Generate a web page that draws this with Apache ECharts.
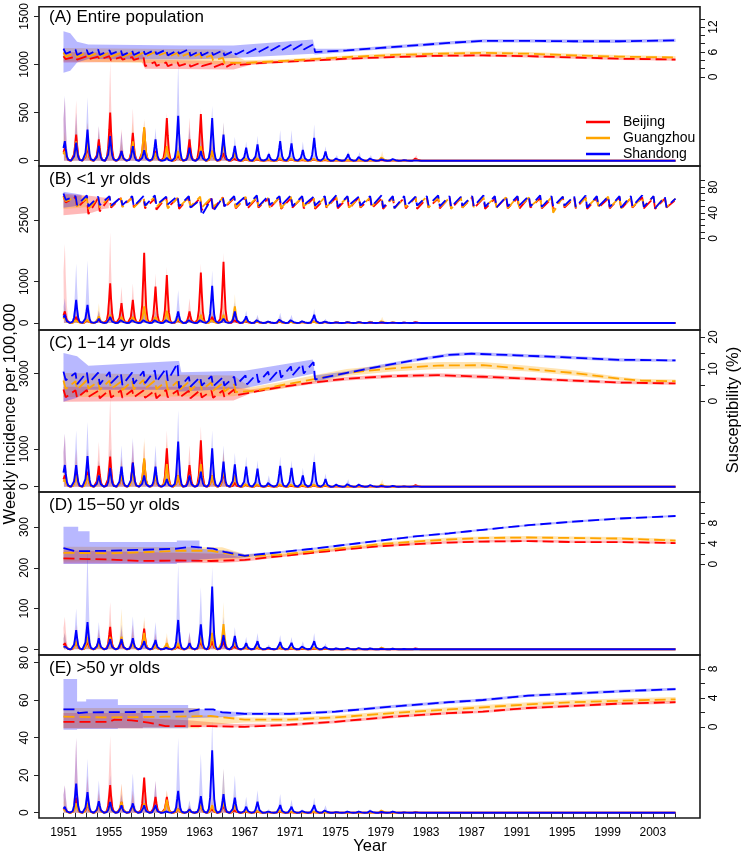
<!DOCTYPE html>
<html><head><meta charset="utf-8">
<script src="https://cdn.jsdelivr.net/npm/echarts@6.0.0/dist/echarts.min.js"></script>
<style>html,body{margin:0;padding:0;background:#fff}#c{width:742px;height:855px}</style>
</head><body><div id="c"></div>
<script>
// ---------------- DATA ----------------
const CITIES = ['Beijing','Guangzhou','Shandong'];
const SPIKE_YEARS = [1951,1952,1953,1954,1955,1956,1957,1958,1959,1960,1961,1962,1963,1964,1965,1966,1967,1968,1969,1970,1971,1972,1973,1974,1975,1976,1977,1978,1979,1980,1981,1982];
const X_TICKS = [1951,1952,1953,1954,1955,1956,1957,1958,1959,1960,1961,1962,1963,1964,1965,1966,1967,1968,1969,1970,1971,1972,1973,1974,1975,1976,1977,1978,1979,1980,1981,1982,1983,1984,1985,1986,1987,1988,1989,1990,1991,1992,1993,1994,1995,1996,1997,1998,1999,2000,2001,2002,2003,2004,2005];
const X_LABELS = [1951,1955,1959,1963,1967,1971,1975,1979,1983,1987,1991,1995,1999,2003];

// Panel A: weekly incidence peaks (per 100,000)
const A_INC_BJ = [130,272,150,221,500,102,289,340,100,442,60,221,486,100,80,30,20,20,10,20,20,10,20,10,5,5,5,5,10,5,5,34];
const A_INC_GZ = [100,200,200,150,250,80,200,350,80,150,100,100,150,100,200,80,30,40,20,40,30,20,30,20,10,10,10,10,51,10,5,10];
const A_INC_SD = [204,187,323,153,255,100,150,110,221,30,466,136,100,442,272,153,136,170,68,204,180,112,238,95,34,68,58,34,20,24,10,5];
const A_UP_BJ = [660,630,400,360,1020,330,544,420,250,500,150,450,540,200,250,80,50,40,30,40,40,30,40,30,15,15,15,15,25,15,10,60];
const A_UP_GZ = [300,400,400,300,500,200,400,440,200,450,300,300,350,300,400,150,60,80,40,80,60,40,60,40,20,20,20,20,100,20,10,20];
const A_UP_SD = [680,500,663,360,400,300,300,300,340,100,1020,350,300,570,400,250,200,260,100,320,320,200,380,150,60,100,90,60,40,40,20,10];
// Panel A: susceptibility (%), sawtooth highs/lows then smooth tail
const A_SUS_BJ_HI = [5.0,4.9,5.0,4.9,5.0,4.8,4.8,4.8,3.6,3.5,3.5,3.4,3.4,3.3,3.2,3.4];
const A_SUS_BJ_LO = [4.3,4.2,4.3,4.2,4.0,4.2,4.1,2.6,2.7,2.6,2.7,2.5,2.6,2.3,2.2,2.8];
const A_SUS_BJ_TAIL = [[1968,3.3],[1970,3.6],[1973,4.0],[1976,4.4],[1980,4.8],[1984,5.1],[1988,5.2],[1992,5.0],[1996,4.7],[2000,4.4],[2005,4.2]];
const A_SUS_GZ_HI = [5.9,5.8,5.9,5.8,5.9,5.8,5.8,5.9,6.0,5.9,5.8,5.7,5.6,5.2,4.6];
const A_SUS_GZ_LO = [4.9,4.8,4.9,4.8,4.9,4.8,4.8,4.9,5.0,4.8,4.7,4.6,4.4,4.0,3.4];
const A_SUS_GZ_TAIL = [[1967,3.4],[1970,3.8],[1973,4.3],[1976,4.8],[1980,5.3],[1984,5.6],[1988,5.8],[1992,5.6],[1996,5.2],[2000,4.9],[2005,4.7]];
const A_SUS_SD_HI = [6.8,6.6,6.5,6.6,6.4,6.5,6.3,6.4,6.5,6.6,6.4,6.7,6.3,6.3,6.4,6.3,6.6,6.9,7.2,7.5,7.7,7.9,7.9];
const A_SUS_SD_LO = [5.6,5.3,5.4,5.3,5.5,5.2,5.3,5.4,5.5,5.2,5.6,5.1,5.2,5.3,5.2,5.4,5.7,6.0,6.2,6.4,6.5,6.6,6.0];
const A_SUS_SD_TAIL = [[1976,6.4],[1979,7.0],[1982,7.6],[1985,8.2],[1988,8.7],[1992,8.7],[1996,8.6],[2000,8.6],[2005,8.8]];
const A_BAND_BJ = [[1951,3.5,6.0],[1957.9,3.6,5.8],[1958.2,2.0,4.2],[1966,1.8,3.8],[1967.5,2.9,3.7],[1970,3.3,3.9],[1973,3.7,4.3],[1976,4.1,4.7],[1980,4.5,5.1],[1984,4.8,5.4],[1988,4.9,5.5],[1992,4.7,5.3],[1996,4.4,5.0],[2000,4.1,4.7],[2005,3.9,4.5]];
const A_BAND_GZ = [[1951,3.8,7.0],[1965,3.0,6.6],[1967,3.0,4.0],[1970,3.4,4.2],[1973,3.9,4.7],[1976,4.4,5.2],[1980,4.9,5.7],[1984,5.2,6.0],[1988,5.4,6.2],[1992,5.2,6.0],[1996,4.8,5.6],[2000,4.5,5.3],[2005,4.4,5.0]];
const A_BAND_SD = [[1951,1.0,11.0],[1951.6,1.5,10.5],[1952.2,3.5,8.5],[1953.2,4.3,7.8],[1962,4.2,7.6],[1966,4.6,7.6],[1973,5.6,9.0],[1973.2,5.4,6.8],[1976,6.0,6.8],[1979,6.6,7.4],[1982,7.2,8.0],[1985,7.8,8.6],[1988,8.3,9.1],[1992,8.3,9.1],[1996,8.2,9.0],[2000,8.2,9.0],[2005,8.4,9.2]];

// Panel B
const B_INC_BJ = [280,150,100,120,960,480,560,1700,880,1160,100,280,1224,150,1480,100,60,50,40,50,40,30,60,30,20,20,20,15,10,10,5,30];
const B_INC_GZ = [150,100,120,160,200,150,150,400,150,300,100,100,200,100,200,400,80,60,30,60,40,30,50,30,20,20,20,40,60,20,10,10];
const B_INC_SD = [200,560,440,100,150,100,100,100,100,100,280,100,100,900,100,280,160,100,50,120,100,60,200,50,20,30,30,20,20,10,5,5];
const B_UP_BJ = [1920,600,400,300,2200,880,960,1760,1200,1360,300,600,1440,300,1700,200,150,100,80,100,80,60,100,60,40,40,40,30,20,20,10,60];
const B_UP_GZ = [400,300,300,480,500,400,400,800,400,700,300,300,500,300,500,700,200,150,80,150,100,80,120,80,50,50,50,100,150,50,30,30];
const B_UP_SD = [600,1440,1520,300,400,300,300,300,300,300,800,300,300,1280,300,500,300,200,100,250,200,120,350,100,40,60,60,40,40,20,10,10];
const B_SUS_BJ_HI = [66,64,62,63,64,63,64,63,62,64,63,64,63,62,64,63,64,63,62,64,63,64,63,62,64,63,64,63,62,64,63,64,63,62,64,63,64,63,62,64,63,64,63,62,64,63,64,63,62,64,63,64,63,62];
const B_SUS_BJ_LO = [56,48,38,42,48,50,49,47,45,48,46,47,44,46,48,47,46,48,47,46,48,47,46,48,47,46,48,47,46,48,47,46,48,47,46,48,47,46,48,47,46,48,47,46,48,47,46,48,47,46,48,47,46,48];
const B_SUS_BJ_TAIL = [[2005,60]];
const B_SUS_GZ_HI = [65,64,63,64,65,64,63,64,65,64,63,64,65,64,63,64,65,64,63,64,65,64,63,64,65,64,63,64,65,64,63,64,65,64,63,64,65,64,63,64,65,64,63,64,65,64,63,64,65,64,63,64,65,64];
const B_SUS_GZ_LO = [58,50,46,48,50,49,48,50,49,47,49,50,48,49,50,48,49,50,48,47,49,50,48,49,50,48,49,50,48,47,49,50,48,49,46,48,49,50,48,47,49,50,48,40,50,48,49,50,48,47,49,50,48,49];
const B_SUS_GZ_TAIL = [[2005,62]];
const B_SUS_SD_HI = [70,66,67,65,66,64,66,66,67,65,66,66,60,62,64,66,66,67,66,66,67,66,65,66,67,66,65,66,67,66,66,65,66,67,66,65,66,67,66,65,66,66,67,66,65,66,67,66,65,66,66,67,66,65];
const B_SUS_SD_LO = [60,52,50,52,51,52,50,51,52,53,50,48,36,42,50,52,51,50,52,51,50,52,51,50,49,52,51,50,48,47,50,51,52,50,49,51,50,49,48,50,51,50,49,50,51,49,48,50,49,48,50,49,47,49];
const B_SUS_SD_TAIL = [[2005,62]];
const B_BAND_BJ = [[1951,36,70],[1953.5,40,66],[1954.5,46,64],[1955,47,63]];
const B_BAND_GZ = [[1951,46,68],[1952.5,48,66],[1953,49,65]];
const B_BAND_SD = [[1951,48,73],[1952,50,70],[1952.6,51,68]];

// Panel C
const C_INC_BJ = [300,400,400,550,796,300,637,720,300,1018,300,575,1230,300,400,100,80,60,40,60,40,30,50,40,20,20,20,20,20,10,10,60];
const C_INC_GZ = [200,300,300,300,500,300,400,752,300,600,300,300,600,300,500,300,100,100,60,100,80,60,80,60,40,30,40,30,80,20,10,20];
const C_INC_SD = [575,575,814,300,500,531,637,300,531,200,1200,300,400,1018,664,593,531,480,150,550,500,300,650,200,80,100,80,60,30,30,10,5];
const C_UP_BJ = [1400,1000,1000,1195,2390,800,1200,1200,700,1500,600,1100,1600,600,900,200,150,120,80,120,80,60,100,80,40,40,40,40,40,20,20,120];
const C_UP_GZ = [600,700,700,700,1000,700,800,1300,600,1200,600,600,1100,600,1000,600,200,200,120,200,160,120,160,120,80,60,80,60,200,40,20,40];
const C_UP_SD = [1416,1500,1725,700,1000,1100,1300,700,1100,400,2035,700,800,1500,1100,900,800,700,300,800,700,500,900,350,150,200,150,120,60,60,20,10];
const C_SUS_BJ_HI = [3.6,3.4,3.5,3.2,3.5,3.3,3.4,3.3,3.2,3.5,3.3,3.2,3.4,3.2,3.3,3.6];
const C_SUS_BJ_LO = [1.2,1.0,1.3,0.9,1.1,1.0,1.2,1.0,0.9,1.2,1.0,0.9,1.1,1.0,1.2,1.8];
const C_SUS_BJ_TAIL = [[1968,3.0],[1970,4.3],[1973,5.8],[1976,7.0],[1980,7.8],[1984,8.1],[1988,7.6],[1992,7.0],[1996,6.4],[2000,5.8],[2005,5.5]];
const C_SUS_GZ_HI = [6.4,6.2,6.5,6.1,6.4,6.0,6.3,6.6,6.4,6.2,6.1,6.0,6.2,5.9,5.6,5.2];
const C_SUS_GZ_LO = [3.8,3.6,3.9,3.5,3.8,3.4,3.7,3.9,3.7,3.5,3.4,3.3,3.5,3.2,3.0,2.8];
const C_SUS_GZ_TAIL = [[1968,3.2],[1970,4.8],[1973,6.8],[1976,8.8],[1980,10.2],[1984,11.1],[1988,11.2],[1992,10.0],[1996,8.8],[2000,7.0],[2002,6.4],[2005,6.2]];
const C_SUS_SD_HI = [9.2,8.8,9.0,8.9,9.1,8.7,8.9,9.3,9.6,10.2,11.8,7.6,7.5,7.8,7.4,7.6,8.0,8.5,9.2,10.0,10.8,11.5,12.2];
const C_SUS_SD_LO = [6.5,5.3,5.5,5.2,5.6,5.0,5.4,5.6,6.0,6.4,4.0,4.5,4.8,4.6,4.8,4.9,5.2,5.8,6.5,7.3,8.0,8.6,6.8];
const C_SUS_SD_TAIL = [[1976,8.8],[1979,10.9],[1982,12.8],[1985,14.4],[1987,14.8],[1991,14.3],[1995,13.7],[2000,12.9],[2005,12.7]];
const C_BAND_BJ = [[1951,-0.2,4.5],[1966,0.2,4.5],[1967.5,2.4,3.6],[1970,3.8,4.8],[1973,5.3,6.3],[1976,6.4,7.6],[1980,7.2,8.4],[1984,7.5,8.7],[1988,7.0,8.2],[1992,6.5,7.5],[1996,5.9,6.9],[2000,5.3,6.3],[2005,5.1,5.9]];
const C_BAND_GZ = [[1951,1.3,8.8],[1966,1.5,8.0],[1967.5,2.5,4.3],[1970,3.8,5.8],[1973,5.8,8.0],[1976,7.8,10.0],[1980,9.2,11.4],[1984,10.0,12.2],[1988,10.2,12.2],[1992,9.2,11.0],[1996,8.0,9.6],[2000,6.4,7.6],[2002,5.9,6.9],[2005,5.8,6.7]];
const C_BAND_SD = [[1951,-0.2,15.0],[1952.2,1.0,14.0],[1953.2,3.5,11.0],[1961,3.5,12.5],[1961.2,3.0,12.5],[1961.4,3.0,9.0],[1967,4.0,9.5],[1973,8.5,13.0],[1973.2,6.0,8.0],[1976,8.3,9.3],[1979,10.4,11.4],[1982,12.3,13.3],[1985,13.9,14.9],[1987,14.3,15.3],[1991,13.8,14.8],[1995,13.2,14.2],[2000,12.4,13.4],[2005,12.3,13.1]];

// Panel D
const D_INC_BJ = [15,20,20,20,55,20,20,51,10,6,10,10,20,20,20,10,5,5,3,5,3,2,3,2,1,1,1,1,1,1,1,3];
const D_INC_GZ = [10,20,30,15,30,31,15,40,10,15,15,10,30,40,62,20,8,8,5,8,6,4,6,4,2,2,2,2,6,2,1,1];
const D_INC_SD = [10,47,67,27,25,25,27,20,23,5,72,15,61,154,35,33,15,20,6,18,16,10,20,8,3,5,4,3,2,2,1,1];
const D_UP_BJ = [80,60,60,50,116,50,60,72,40,30,30,40,60,50,60,20,10,10,6,10,6,4,6,4,2,2,2,2,2,2,2,6];
const D_UP_GZ = [40,50,70,40,70,100,40,80,30,40,40,30,70,80,116,40,15,15,10,15,12,8,12,8,4,4,4,4,12,4,2,2];
const D_UP_SD = [40,100,246,67,60,60,81,50,67,15,210,43,153,202,80,55,30,40,12,35,30,20,40,15,6,10,8,6,4,4,2,2];
const D_SUS_BJ = [[1951,1.1],[1955,0.9],[1958,0.6],[1961,0.7],[1964,0.6],[1967,0.8],[1970,1.5],[1973,2.2],[1976,2.9],[1979,3.5],[1982,3.9],[1985,4.2],[1988,4.4],[1992,4.5],[1996,4.3],[2000,4.3],[2005,4.1]];
const D_SUS_GZ = [[1951,2.2],[1955,2.1],[1958,2.3],[1961,2.6],[1964,2.6],[1967,1.5],[1970,1.8],[1973,2.5],[1976,3.2],[1979,3.9],[1982,4.4],[1985,4.8],[1988,5.1],[1992,5.2],[1996,5.1],[2000,5.0],[2005,4.6]];
const D_SUS_SD = [[1951,3.1],[1952.1,2.5],[1955,2.6],[1958,2.8],[1961,3.0],[1962.2,3.4],[1964.2,3.0],[1965.2,2.4],[1967,1.6],[1970,2.3],[1973,3.0],[1976,3.8],[1979,4.6],[1982,5.4],[1985,6.0],[1988,6.7],[1992,7.6],[1996,8.3],[2000,8.9],[2005,9.4]];
const D_BAND_BJ = [[1951,0.1,2.7],[1965,0.2,2.0],[1967,0.5,1.2],[1970,1.3,1.8],[1973,2.0,2.5],[1976,2.7,3.2],[1979,3.3,3.8],[1982,3.7,4.2],[1985,4.0,4.5],[1988,4.2,4.7],[1992,4.3,4.8],[1996,4.1,4.6],[2000,4.1,4.6],[2005,3.9,4.3]];
const D_BAND_GZ = [[1951,0.5,3.4],[1965,0.7,3.3],[1967,1.2,1.9],[1970,1.5,2.1],[1973,2.2,2.8],[1976,2.9,3.5],[1979,3.6,4.2],[1982,4.1,4.7],[1985,4.5,5.2],[1988,4.8,5.4],[1992,4.9,5.5],[1996,4.8,5.4],[2000,4.7,5.3],[2005,4.3,4.9]];
const D_BAND_SD = [[1951,0.0,7.3],[1952.3,0.0,7.3],[1952.3,0.0,6.4],[1953.3,0.0,6.4],[1953.3,0.0,4.3],[1961,0.0,4.3],[1961,0.2,4.6],[1963,0.5,4.6],[1963,0.9,3.0],[1965.5,1.2,2.6],[1967,1.3,1.9],[1970,2.1,2.5],[1973,2.8,3.2],[1976,3.6,4.0],[1979,4.4,4.8],[1982,5.2,5.6],[1985,5.8,6.2],[1988,6.5,6.9],[1992,7.4,7.8],[1996,8.1,8.5],[2000,8.7,9.1],[2005,9.2,9.6]];

// Panel E
const E_INC_BJ = [3,8,5,4,14.7,5.8,4,18.8,8.5,8.5,2,1.5,4,3,4,2,1,1,0.5,1,0.5,0.5,0.5,0.5,0.2,0.2,0.2,0.2,0.2,0.2,0.2,0.5];
const E_INC_GZ = [2,5,5,4,5,5.8,4,5,4,7,3,1.5,4,4,6,4,1.5,1.5,0.5,1.5,1,0.6,1,0.6,0.3,0.3,0.3,0.3,1.8,0.3,0.2,0.2];
const E_INC_SD = [3.2,15.6,11,6.2,5.8,4,5,4,4.1,1,11.7,1.8,8.8,33.3,9.9,8.1,3.2,5.9,0.9,4.1,3.2,1.4,4.1,1.8,0.5,0.9,0.9,1.4,0.6,0.9,0.2,0.2];
const E_UP_BJ = [14.7,40,20,12,41,15.6,12,20,17,12,6,4,8,6,8,4,2,2,1,2,1,1,1,1,0.4,0.4,0.4,0.4,0.4,0.4,0.4,1];
const E_UP_GZ = [8,15,12,10,15,15.6,10,12,10,12,8,4,10,10,23.5,10,3,3,1,3,2,1.2,2,1.2,0.6,0.6,0.6,0.6,3,0.6,0.4,0.4];
const E_UP_SD = [14.7,40,28.8,17.3,20,10,21,10,17,4,40,6.7,31.5,49,23.5,20,8.5,12,2,10,7,3,8,4,1,2,2,3,1.2,2,0.4,0.4];
const E_SUS_BJ = [[1951,0.7],[1955,0.7],[1955.5,1.0],[1957,0.9],[1958.5,0.6],[1960,0.1],[1964,0.1],[1967,0.0],[1971,0.3],[1975,0.7],[1980,1.4],[1985,1.9],[1988,2.1],[1992,2.6],[1996,2.9],[2000,3.2],[2005,3.4]];
const E_SUS_GZ = [[1951,1.4],[1955,1.3],[1960,1.4],[1964,1.5],[1967,1.0],[1971,1.0],[1975,1.3],[1980,1.9],[1985,2.4],[1988,2.7],[1992,3.1],[1996,3.4],[2000,3.6],[2005,3.8]];
const E_SUS_SD = [[1951,2.4],[1952.2,2.4],[1952.3,1.9],[1953,2.0],[1962,2.1],[1963,2.4],[1964.2,2.4],[1965,2.0],[1967,1.8],[1971,1.8],[1975,2.1],[1980,2.8],[1985,3.4],[1988,3.7],[1992,4.3],[1996,4.6],[2000,4.9],[2005,5.2]];
const E_BAND_BJ = [[1951,-0.2,1.9],[1958,-0.2,1.9],[1958,0.0,1.2],[1962,0.0,0.9],[1966,-0.1,0.4],[1971,0.1,0.5],[1975,0.5,0.9],[1980,1.2,1.6],[1985,1.7,2.1],[1988,1.9,2.3],[1992,2.4,2.8],[1996,2.7,3.1],[2000,3.0,3.4],[2005,3.2,3.6]];
const E_BAND_GZ = [[1951,-0.2,2.6],[1963,-0.2,2.6],[1963,0.2,1.6],[1967,0.6,1.3],[1971,0.7,1.3],[1975,1.0,1.6],[1980,1.6,2.2],[1985,2.1,2.7],[1988,2.4,3.0],[1992,2.8,3.4],[1996,3.1,3.7],[2000,3.3,3.9],[2005,3.5,4.1]];
const E_BAND_SD = [[1951,-0.4,6.6],[1952.2,-0.4,6.6],[1952.2,-0.3,3.5],[1953,-0.3,3.5],[1953,-0.3,3.8],[1955.8,-0.3,3.8],[1955.8,-0.2,3.0],[1962,-0.2,3.0],[1962,1.2,2.6],[1966,1.4,2.1],[1967,1.6,2.0],[1971,1.6,2.0],[1975,1.9,2.3],[1980,2.6,3.0],[1985,3.2,3.6],[1988,3.5,3.9],[1992,4.1,4.5],[1996,4.4,4.8],[2000,4.7,5.1],[2005,5.0,5.4]];

// ---------------- LAYOUT / STYLE ----------------
const FONT = '"Liberation Sans", Arial, Helvetica, sans-serif';
const COLORS = ['#ff0000', '#ffa500', '#0000ff'];
const BAND_COLORS = ['rgba(255,0,0,0.28)', 'rgba(255,165,0,0.30)', 'rgba(0,0,255,0.28)'];
const SPIKE_SHAPE = [[-0.45,0],[-0.3,0.06],[-0.18,0.25],[-0.08,0.65],[0,1],[0.08,0.6],[0.18,0.22],[0.3,0.05],[0.45,0]];
const PEAK_OFFSET = 0.12;
const X_MIN = 1948.84, X_MAX = 2007.16;

const PANELS = [
  {title:'(A) Entire population', top:4, bottom:166, lmin:-55, lmax:1600, lticks:[0,500,1000,1500], llabels:[0,500,1000,1500],
   rmin:-21.4, rmax:16.9, rticks:[0,2,4,6,8,10,12,14], rlabels:[0,6,12],
   inc:[A_INC_BJ,A_INC_GZ,A_INC_SD], up:[A_UP_BJ,A_UP_GZ,A_UP_SD],
   sus:[[A_SUS_BJ_HI,A_SUS_BJ_LO,A_SUS_BJ_TAIL],[A_SUS_GZ_HI,A_SUS_GZ_LO,A_SUS_GZ_TAIL],[A_SUS_SD_HI,A_SUS_SD_LO,A_SUS_SD_TAIL]],
   band:[A_BAND_BJ,A_BAND_GZ,A_BAND_SD]},
  {title:'(B) <1 yr olds', top:166, bottom:330, lmin:-171, lmax:3805, lticks:[0,1000,2500], llabels:[0,1000,2500],
   rmin:-143, rmax:113, rticks:[0,10,20,30,40,50,60,70,80,90], rlabels:[0,40,80],
   inc:[B_INC_BJ,B_INC_GZ,B_INC_SD], up:[B_UP_BJ,B_UP_GZ,B_UP_SD],
   sus:[[B_SUS_BJ_HI,B_SUS_BJ_LO,B_SUS_BJ_TAIL],[B_SUS_GZ_HI,B_SUS_GZ_LO,B_SUS_GZ_TAIL],[B_SUS_SD_HI,B_SUS_SD_LO,B_SUS_SD_TAIL]],
   band:[B_BAND_BJ,B_BAND_GZ,B_BAND_SD]},
  {title:'(C) 1\u221214 yr olds', top:330, bottom:492, lmin:-141, lmax:4156, lticks:[0,1000,3000], llabels:[0,1000,3000],
   rmin:-28.4, rmax:22.2, rticks:[0,5,10,15,20], rlabels:[0,10,20],
   inc:[C_INC_BJ,C_INC_GZ,C_INC_SD], up:[C_UP_BJ,C_UP_GZ,C_UP_SD],
   sus:[[C_SUS_BJ_HI,C_SUS_BJ_LO,C_SUS_BJ_TAIL],[C_SUS_GZ_HI,C_SUS_GZ_LO,C_SUS_GZ_TAIL],[C_SUS_SD_HI,C_SUS_SD_LO,C_SUS_SD_TAIL]],
   band:[C_BAND_BJ,C_BAND_GZ,C_BAND_SD]},
  {title:'(D) 15\u221250 yr olds', top:492, bottom:655, lmin:-14, lmax:386, lticks:[0,100,200,300], llabels:[0,100,200,300],
   rmin:-17.8, rmax:14.1, rticks:[0,2,4,6,8,10,12], rlabels:[0,4,8],
   inc:[D_INC_BJ,D_INC_GZ,D_INC_SD], up:[D_UP_BJ,D_UP_GZ,D_UP_SD],
   sus:[[null,null,D_SUS_BJ],[null,null,D_SUS_GZ],[null,null,D_SUS_SD]],
   band:[D_BAND_BJ,D_BAND_GZ,D_BAND_SD]},
  {title:'(E) >50 yr olds', top:655, bottom:818, lmin:-2.8, lmax:84.1, lticks:[0,20,40,60,80], llabels:[0,20,40,60,80],
   rmin:-12.55, rmax:9.9, rticks:[0,2,4,6,8], rlabels:[0,4,8],
   inc:[E_INC_BJ,E_INC_GZ,E_INC_SD], up:[E_UP_BJ,E_UP_GZ,E_UP_SD],
   sus:[[null,null,E_SUS_BJ],[null,null,E_SUS_GZ],[null,null,E_SUS_SD]],
   band:[E_BAND_BJ,E_BAND_GZ,E_BAND_SD]}
];

// ---------------- BUILD ----------------
function spikeLine(peaks){
  const pts = [];
  SPIKE_YEARS.forEach((yr, k) => {
    SPIKE_SHAPE.forEach(([dx, f]) => {
      const x = yr + PEAK_OFFSET + dx;
      if (x >= 1951) pts.push([x, peaks[k] * f]);
    });
  });
  pts.unshift([1951, pts[0][1]]);
  pts.push([2005, 0]);
  return pts;
}
function susLine(hi, lo, tail){
  const pts = [];
  if (hi) {
    for (let k = 0; k < lo.length; k++) {
      pts.push(k === 0 ? [1951, hi[0]] : [1951 + k + 0.06, hi[k]]);
      pts.push([1951 + k + 0.2, lo[k]]);
    }
  }
  return pts.concat(tail);
}
const axisFont = {fontFamily: FONT, color: '#000'};
const plain = v => String(Math.round(v));
const grids = [], xAxes = [], yAxes = [], series = [], graphics = [];
PANELS.forEach((p, i) => {
  const last = i === PANELS.length - 1;
  grids.push({left:39, right:42, top:p.top, height:p.bottom - p.top, show:true, borderColor:'#1a1a1a', borderWidth:1.6, backgroundColor:'rgba(0,0,0,0)'});
  xAxes.push({type:'value', gridIndex:i, min:X_MIN, max:X_MAX, axisLine:{show:false}, splitLine:{show:false},
    axisTick:{show:last, customValues:X_TICKS, length:5, lineStyle:{color:'#222', width:1}},
    axisLabel:{show:last, customValues:X_LABELS, formatter:plain, fontSize:12, margin:9, ...axisFont}});
  yAxes.push({type:'value', gridIndex:i, position:'left', min:p.lmin, max:p.lmax, axisLine:{show:false}, splitLine:{show:false},
    axisTick:{show:true, customValues:p.lticks, length:5, lineStyle:{color:'#222'}},
    axisLabel:{customValues:p.llabels, formatter:plain, rotate:90, fontSize:12, margin:8, ...axisFont}});
  yAxes.push({type:'value', gridIndex:i, position:'right', min:p.rmin, max:p.rmax, axisLine:{show:false}, splitLine:{show:false},
    axisTick:{show:true, customValues:p.rticks, length:5, lineStyle:{color:'#222'}},
    axisLabel:{customValues:p.rlabels, formatter:plain, rotate:90, fontSize:12, margin:8, ...axisFont}});
  p.band.forEach((band, c) => {
    series.push({type:'custom', xAxisIndex:i, yAxisIndex:2*i+1, silent:true, z:1, data:band, encode:{x:0, y:1},
      renderItem:(params, api) => {
        if (params.dataIndex !== 0) return null;
        const pts = band.map(b => api.coord([b[0], b[1]]));
        for (let j = band.length - 1; j >= 0; j--) pts.push(api.coord([band[j][0], band[j][2]]));
        return {type:'polygon', shape:{points:pts}, style:{fill:BAND_COLORS[c]}};
      }});
  });
  p.up.forEach((up, c) => {
    series.push({type:'line', xAxisIndex:i, yAxisIndex:2*i, silent:true, z:2, symbol:'none', data:spikeLine(up),
      lineStyle:{width:0, color:BAND_COLORS[c]}, areaStyle:{color:BAND_COLORS[c]}, color:BAND_COLORS[c]});
  });
  p.inc.forEach((inc, c) => {
    series.push({type:'line', name: i === 0 ? CITIES[c] : undefined, xAxisIndex:i, yAxisIndex:2*i, z:3, symbol:'none', data:spikeLine(inc),
      color:COLORS[c], lineStyle:{width:1.9, color:COLORS[c]}});
  });
  p.sus.forEach((s, c) => {
    series.push({type:'line', xAxisIndex:i, yAxisIndex:2*i+1, z:4, symbol:'none', silent:true, data:susLine(s[0], s[1], s[2]),
      color:COLORS[c], lineStyle:{width:1.8, color:COLORS[c], type:[11,5]}});
  });
  graphics.push({type:'text', x:49, y:p.top + 13, style:{text:p.title, fontSize:17, fontFamily:FONT, fill:'#000', verticalAlign:'middle'}});
});
graphics.push({type:'text', x:10, y:414, rotation:Math.PI/2, style:{text:'Weekly incidence per 100,000', fontSize:16.5, fontFamily:FONT, fill:'#000', align:'center', verticalAlign:'middle'}});
graphics.push({type:'text', x:733, y:410, rotation:Math.PI/2, style:{text:'Susceptibility (%)', fontSize:16.5, fontFamily:FONT, fill:'#000', align:'center', verticalAlign:'middle'}});
graphics.push({type:'text', x:370, y:846, style:{text:'Year', fontSize:16.5, fontFamily:FONT, fill:'#000', align:'center', verticalAlign:'middle'}});

const chart = echarts.init(document.getElementById('c'), null, {renderer:'canvas'});
chart.setOption({
  animation:false,
  backgroundColor:'#fff',
  grid:grids, xAxis:xAxes, yAxis:yAxes, series:series, graphic:graphics,
  legend:{data:CITIES, orient:'vertical', left:586, top:115, padding:0, icon:'rect', itemWidth:24, itemHeight:2.5, itemGap:2,
    selectedMode:false, textStyle:{fontSize:14, fontFamily:FONT, color:'#000', lineHeight:14, padding:[0,0,0,8]}}
});
</script></body></html>
